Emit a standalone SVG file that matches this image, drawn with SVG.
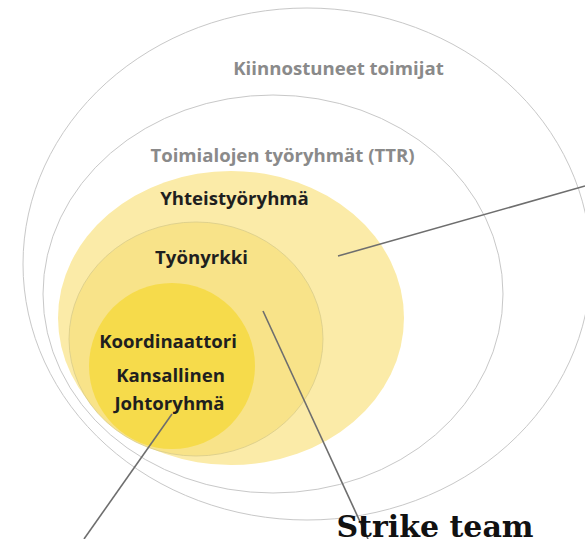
<svg xmlns="http://www.w3.org/2000/svg" width="585" height="539" viewBox="0 0 585 539">
<style>
.ring{fill:none;stroke:#c8c8c8;stroke-width:1}
.gl{font-family:"Open Sans","Noto Sans",sans-serif;font-weight:700;fill:#8a8a8a;font-size:18.6px;text-anchor:middle}
.dk{font-family:"Open Sans","Noto Sans",sans-serif;font-weight:700;fill:#1f1f1f;font-size:18.6px;text-anchor:middle}
.conn line{stroke:#6e6e6e;stroke-width:1.6}
</style>
<rect width="585" height="539" fill="#fff"/>
<g id="kiinnostuneet">
<ellipse class="ring" cx="307" cy="264" rx="284" ry="256"/>
<text class="gl" x="338.5" y="75">Kiinnostuneet toimijat</text>
</g>
<g id="ttr">
<ellipse class="ring" cx="273" cy="294" rx="230" ry="199"/>
<text class="gl" x="282.5" y="162">Toimialojen työryhmät (TTR)</text>
</g>
<g id="yhteistyoryhma">
<ellipse cx="231" cy="318" rx="173" ry="147" fill="#fbeba8"/>
<text class="dk" x="234.5" y="205">Yhteistyöryhmä</text>
</g>
<g id="tyonyrkki">
<ellipse cx="196" cy="339" rx="127" ry="117" fill="#f8e389" stroke="#d8cc8a" stroke-width="0.8"/>
<text class="dk" x="201.5" y="264">Työnyrkki</text>
</g>
<g id="koordinaattori">
<circle cx="172" cy="366" r="83" fill="#f6db4b"/>
<text class="dk" x="168" y="348">Koordinaattori</text>
<text class="dk" x="170.5" y="382">Kansallinen</text>
<text class="dk" x="169.5" y="410">Johtoryhmä</text>
</g>
<g id="connectors" class="conn">
<line x1="338" y1="256" x2="585" y2="186"/>
<line x1="263" y1="311" x2="368" y2="539"/>
<line x1="172" y1="414" x2="84" y2="539"/>
</g>
<g id="strike-team">
<text x="435" y="537" font-family="'DejaVu Serif',serif" font-weight="700" font-size="30" fill="#111" text-anchor="middle">Strike team</text>
</g>
</svg>
